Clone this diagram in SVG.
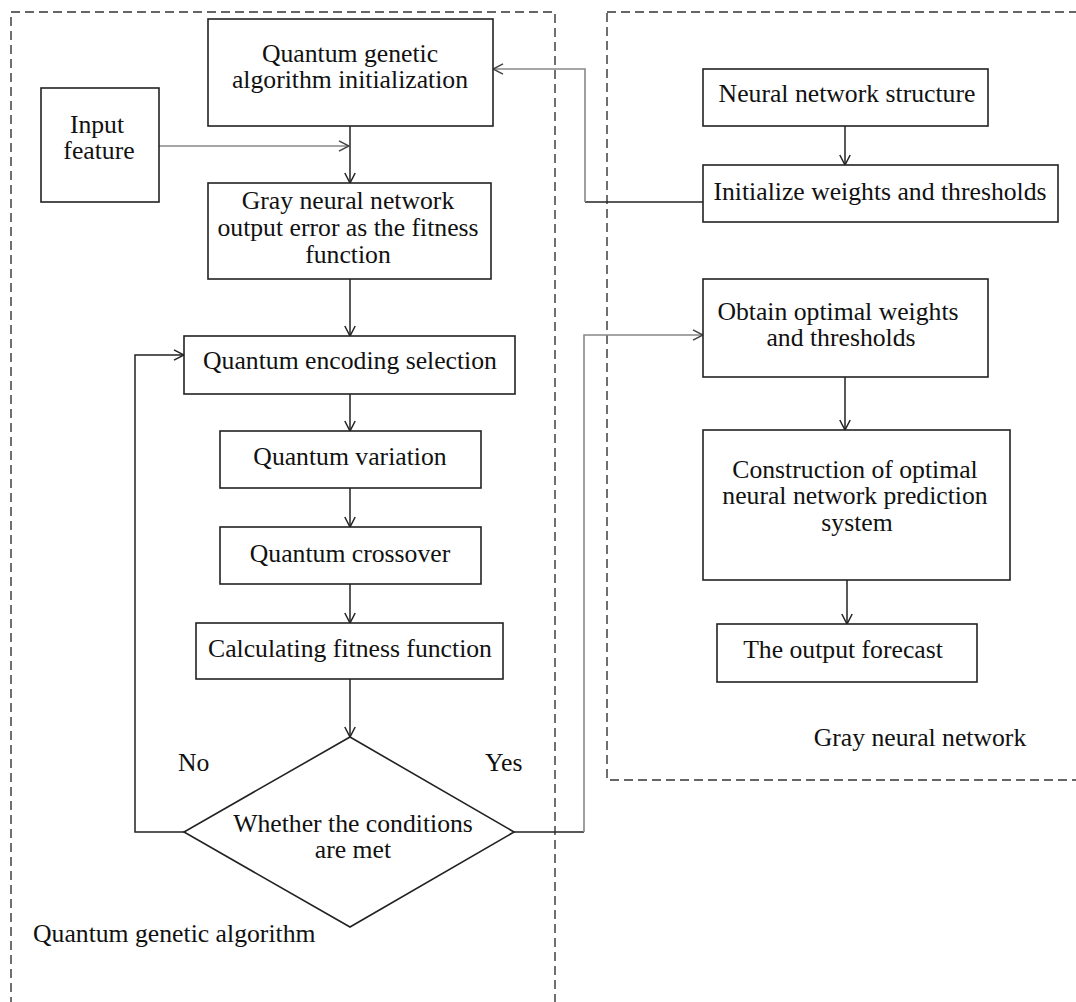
<svg xmlns="http://www.w3.org/2000/svg" width="1076" height="1002" viewBox="0 0 1076 1002">
<style>
  .box { fill: #fff; stroke: #222; stroke-width: 1.6; }
  .grp { fill: none; stroke: #333; stroke-width: 1.4; stroke-dasharray: 9 5; }
  .t { font-family: "Liberation Serif", "Times New Roman", serif; font-size: 25.7px; fill: #111; text-anchor: middle; }
  .ts { font-family: "Liberation Serif", "Times New Roman", serif; font-size: 25.7px; fill: #111; }
  .c { fill: none; stroke: #222; stroke-width: 1.5; }
  .g { fill: none; stroke: #888; stroke-width: 1.6; }
</style>
<defs>
  <marker id="ah" viewBox="0 0 12 12" refX="11.5" refY="6" markerWidth="12" markerHeight="12" markerUnits="userSpaceOnUse" orient="auto">
    <path d="M1.5,0.8 L11.5,6 L1.5,11.2" fill="none" stroke="#222" stroke-width="1.5"/>
  </marker>
  <marker id="ahg" viewBox="0 0 12 12" refX="11.5" refY="6" markerWidth="12" markerHeight="12" markerUnits="userSpaceOnUse" orient="auto">
    <path d="M1.5,0.8 L11.5,6 L1.5,11.2" fill="none" stroke="#444" stroke-width="1.5"/>
  </marker>
</defs>
<rect width="1076" height="1002" fill="#fff"/>

<g id="group-qga">
  <rect class="grp" x="11" y="12" width="544" height="1010"/>
  <text class="ts" x="33" y="942">Quantum genetic algorithm</text>
</g>
<g id="group-gnn">
  <rect class="grp" x="607" y="12" width="490" height="768"/>
  <text class="t" x="920" y="746">Gray neural network</text>
</g>

<g id="connectors">
  <path class="c" d="M350,126 V183" marker-end="url(#ah)"/>
  <path class="g" d="M159,146 H349" marker-end="url(#ahg)"/>
  <path class="c" d="M350,279 V336" marker-end="url(#ah)"/>
  <path class="c" d="M350,394 V431" marker-end="url(#ah)"/>
  <path class="c" d="M350,488 V527" marker-end="url(#ah)"/>
  <path class="c" d="M350,584 V623" marker-end="url(#ah)"/>
  <path class="c" d="M350,679 V737" marker-end="url(#ah)"/>
  <path class="c" d="M184,832 H135 V355 H184" marker-end="url(#ah)"/>
  <path class="c" d="M514,832 H584"/>
  <path class="g" d="M584,832 V335 H703" marker-end="url(#ahg)"/>
  <path class="c" d="M703,202 H585"/>
  <path class="g" d="M585,202 V69 H493" marker-end="url(#ahg)"/>
  <path class="c" d="M845,126 V165" marker-end="url(#ah)"/>
  <path class="c" d="M845,377 V430" marker-end="url(#ah)"/>
  <path class="c" d="M847,580 V624" marker-end="url(#ah)"/>
</g>

<g id="qga-init">
  <rect class="box" x="208" y="19" width="285" height="107"/>
  <text class="t" x="350" y="62">Quantum genetic</text>
  <text class="t" x="350" y="88">algorithm initialization</text>
</g>
<g id="input-feature">
  <rect class="box" x="41" y="88" width="118" height="114"/>
  <text class="t" x="97" y="133">Input</text>
  <text class="t" x="99" y="159">feature</text>
</g>
<g id="fitness-error">
  <rect class="box" x="208" y="183" width="283" height="96"/>
  <text class="t" x="348" y="209">Gray neural network</text>
  <text class="t" x="348" y="236">output error as the fitness</text>
  <text class="t" x="348" y="263">function</text>
</g>
<g id="encoding">
  <rect class="box" x="184" y="336" width="331" height="58"/>
  <text class="t" x="350" y="369">Quantum encoding selection</text>
</g>
<g id="variation">
  <rect class="box" x="220" y="431" width="261" height="57"/>
  <text class="t" x="350" y="465">Quantum variation</text>
</g>
<g id="crossover">
  <rect class="box" x="220" y="527" width="261" height="57"/>
  <text class="t" x="350" y="562">Quantum crossover</text>
</g>
<g id="calc-fitness">
  <rect class="box" x="196" y="623" width="307" height="56"/>
  <text class="t" x="350" y="657">Calculating fitness function</text>
</g>
<g id="decision">
  <polygon class="box" points="350,737 514,832 350,927 184,832"/>
  <text class="t" x="353" y="832">Whether the conditions</text>
  <text class="t" x="353" y="858">are met</text>
  <text class="ts" x="178" y="771">No</text>
  <text class="ts" x="485" y="771">Yes</text>
</g>

<g id="nn-structure">
  <rect class="box" x="703" y="69" width="285" height="57"/>
  <text class="t" x="847" y="102">Neural network structure</text>
</g>
<g id="init-weights">
  <rect class="box" x="703" y="165" width="355" height="57"/>
  <text class="t" x="880" y="200">Initialize weights and thresholds</text>
</g>
<g id="optimal-weights">
  <rect class="box" x="703" y="279" width="285" height="98"/>
  <text class="t" x="838" y="320">Obtain optimal weights</text>
  <text class="t" x="841" y="346">and thresholds</text>
</g>
<g id="construction">
  <rect class="box" x="703" y="430" width="307" height="150"/>
  <text class="t" x="855" y="478">Construction of optimal</text>
  <text class="t" x="855" y="504">neural network prediction</text>
  <text class="t" x="857" y="531">system</text>
</g>
<g id="output-forecast">
  <rect class="box" x="717" y="624" width="260" height="58"/>
  <text class="t" x="843" y="658">The output forecast</text>
</g>
</svg>
